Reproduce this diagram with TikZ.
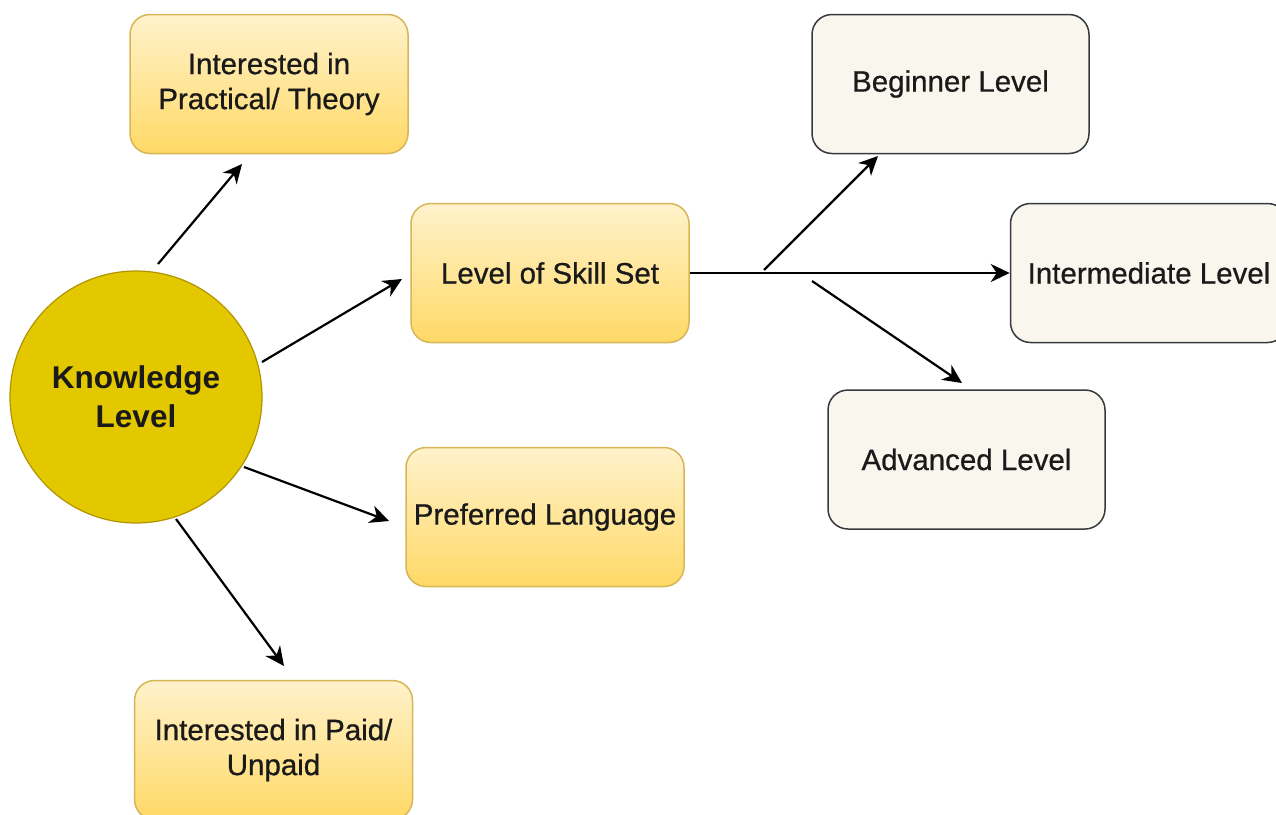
\documentclass[tikz,border=0pt]{standalone}
\usepackage{fontspec}
\setmainfont{Liberation Sans}
\newfontfamily\labelfont[FakeBold=0.7]{Liberation Sans}
\usetikzlibrary{arrows.meta}
\definecolor{hubfill}{HTML}{E3C800}
\definecolor{hubline}{HTML}{B09500}
\definecolor{ytop}{HTML}{FFF2CC}
\definecolor{ybot}{HTML}{FFD966}
\definecolor{yline}{HTML}{D6B656}
\definecolor{gfill}{HTML}{F9F7ED}
\definecolor{gline}{HTML}{36393D}
\definecolor{txt}{HTML}{1A1A1A}
\tikzset{
  x=1pt, y=-1pt,
  boxtext/.style={font=\labelfont\fontsize{29.5}{35}\selectfont, text=txt, align=center},
  ybox/.style={boxtext, draw=yline, line width=1.5pt, rounded corners=20pt,
    top color=ytop, bottom color=ybot, minimum width=278pt, minimum height=139pt,
    inner sep=0pt},
  gbox/.style={boxtext, draw=gline, line width=1.5pt, rounded corners=20pt,
    fill=gfill, minimum width=277pt, minimum height=139pt, inner sep=0pt},
  hub/.style={circle, draw=hubline, line width=1.2pt, fill=hubfill,
    minimum size=252pt, inner sep=0pt, align=center, text=txt,
    font=\bfseries\fontsize{31.5}{39}\selectfont},
  link/.style={line width=2.2pt, draw=black,
    -{Stealth[length=19pt,width=18pt,inset=6pt]}},
}
\begin{document}
\begin{tikzpicture}
\clip (0,0) rectangle (1276,814);
\fill[white] (0,0) rectangle (1276,814);

% central concept
\node[hub] (know) at (136,397) {Knowledge\\Level};

% first-level attributes
\node[ybox] (prac)  at (269,84)    {Interested in\\Practical/ Theory};
\node[ybox] (skill) at (550,273)   {Level of Skill Set};
\node[ybox] (lang)  at (545,517)   {Preferred Language};
\node[ybox] (paid)  at (273.5,750) {Interested in Paid/\\Unpaid};

% skill levels
\node[gbox] (beg)   at (950.5,84)  {Beginner Level};
\node[gbox] (inter) at (1149,273)  {Intermediate Level};
\node[gbox] (adv)   at (966.5,459.5) {Advanced Level};

% free ends of the connectors
\coordinate (k1) at (158,264);  \coordinate (p1) at (242,164);
\coordinate (k2) at (262,362);  \coordinate (s1) at (402,279);
\coordinate (k3) at (244,467);  \coordinate (l1) at (389,521);
\coordinate (k4) at (176,519);  \coordinate (u1) at (284,666);
\coordinate (f1) at (764,270);  \coordinate (b1) at (878,156);
\coordinate (f2) at (812,281);  \coordinate (a1) at (962,383);

\draw[link] (k1) -- (p1);
\draw[link] (k2) -- (s1);
\draw[link] (k3) -- (l1);
\draw[link] (k4) -- (u1);
\draw[link] (skill.east) -- (inter.west);
\draw[link] (f1) -- (b1);
\draw[link] (f2) -- (a1);
\end{tikzpicture}
\end{document}
